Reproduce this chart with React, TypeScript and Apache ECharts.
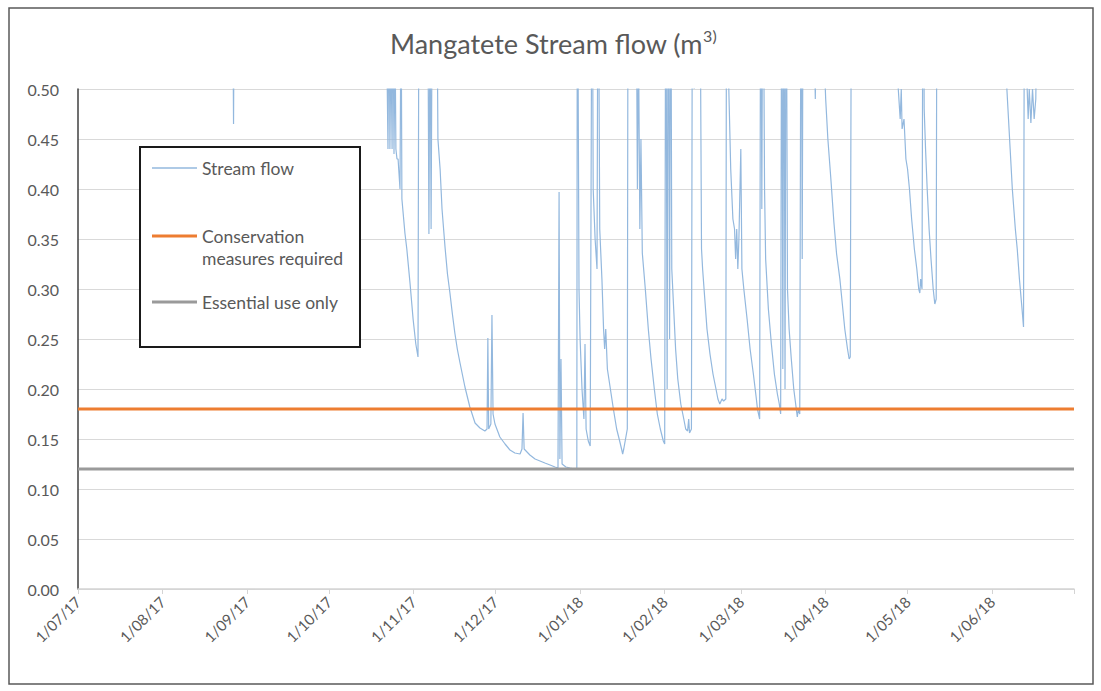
import React, { useEffect, useRef } from 'react';
import * as echarts from 'echarts';

// Day offsets (days since 1 Jul 2017) of the month starts shown on the x axis
const monthStartDays = [0, 31, 62, 92, 123, 153, 184, 215, 243, 274, 304, 335, 365];
const monthLabels = [
  '1/07/17', '1/08/17', '1/09/17', '1/10/17', '1/11/17', '1/12/17',
  '1/01/18', '1/02/18', '1/03/18', '1/04/18', '1/05/18', '1/06/18',
];

// Stream flow readings: time (days since 1 Jul 2017) and flow (values > 0.5 run off the top of the chart)
const flowDay = [
  0, 30, 56.5, 57.0, 57.4, 80, 110, 112.9, 113.6, 114.0, 114.3, 114.7, 115.1, 115.4, 115.8, 116.2, 116.5, 116.9,
  117.3, 118.0, 118.4, 118.7, 119.8, 120.5, 121.7, 122.8, 123.8, 124.6, 125.0, 125.4, 128.2, 128.6, 129.0, 129.4,
  129.8, 131.3, 131.9, 132.7, 133.4, 134.5, 135.4, 136.3, 137.2, 138.1, 139.0, 140.0, 141.8, 143.6, 145.5, 147.3,
  149.1, 149.9, 150.2, 150.5, 151.3, 151.7, 152.1, 152.8, 154.6, 156.5, 158.3, 160.1, 162.0, 162.7, 163.1, 163.5,
  165.6, 167.5, 169.3, 171.1, 173.0, 174.8, 175.9, 176.3, 176.6, 177.0, 177.4, 178.8, 180.3, 182.1, 182.8, 183.0,
  183.6, 184.0, 184.7, 185.4, 185.8, 186.2, 187.0, 187.7, 188.4, 188.8, 189.5, 190.2, 190.6, 191.2, 192.0, 192.6,
  193.0, 193.4, 194.0, 195.1, 196.2, 197.4, 198.5, 199.2, 199.6, 200.0, 201.3, 201.6, 202.2, 203.0, 204.6, 205.0,
  205.4, 205.9, 206.3, 206.8, 207.9, 209.0, 210.0, 211.2, 212.3, 213.4, 214.5, 215.0, 215.4, 215.9, 216.3, 216.8,
  217.2, 217.6, 218.3, 219.0, 219.8, 220.9, 222.0, 222.7, 223.4, 223.8, 224.1, 224.8, 225.2, 225.8, 227.8, 228.5,
  228.9, 229.7, 230.5, 231.6, 232.7, 233.8, 234.5, 235.2, 236.0, 236.6, 237.4, 237.7, 238.1, 238.5, 239.2, 240.0,
  240.6, 241.0, 241.4, 241.8, 242.2, 242.9, 243.3, 244.0, 245.2, 246.3, 247.5, 248.6, 249.0, 249.4, 249.8, 250.2,
  250.6, 251.0, 251.6, 252.0, 253.0, 254.1, 255.2, 256.3, 257.0, 257.5, 257.9, 258.3, 258.7, 259.1, 259.5, 260.0,
  260.6, 261.4, 262.3, 263.0, 263.6, 264.0, 264.5, 265.0, 265.4, 265.8, 269.5, 270.2, 270.6, 272.5, 273.6, 274.0,
  274.8, 275.9, 277.0, 278.0, 279.2, 280.1, 281.0, 282.0, 282.6, 283.0, 283.5, 300.0, 300.6, 301.3, 301.7, 302.0,
  302.7, 303.4, 304.0, 304.7, 305.5, 306.5, 307.4, 308.1, 308.5, 308.8, 309.3, 309.7, 310.1, 310.6, 311.2, 311.9,
  312.6, 313.4, 314.0, 314.5, 314.8, 339.0, 340.4, 341.0, 341.6, 342.4, 343.5, 344.2, 345.0, 345.8, 346.5, 346.9,
  347.6, 348.2, 348.6, 349.2, 349.8, 350.4, 351.0, 351.5, 365,
];
const flowValue = [
  0.95, 0.8, 0.7, 0.465, 0.7, 0.9, 0.8, 0.6, 0.44, 0.6, 0.44, 0.55, 0.44, 0.6, 0.435, 0.55, 0.44, 0.43,
  0.43, 0.40, 0.6, 0.39, 0.356, 0.34, 0.305, 0.27, 0.245, 0.232, 0.7, 0.65, 0.6, 0.355, 0.6, 0.36,
  0.6, 0.7, 0.45, 0.42, 0.38, 0.342, 0.315, 0.296, 0.275, 0.256, 0.24, 0.226, 0.202, 0.182, 0.166, 0.161,
  0.158, 0.16, 0.251, 0.16, 0.165, 0.274, 0.175, 0.165, 0.152, 0.145, 0.139, 0.136, 0.135, 0.14, 0.176, 0.14,
  0.134, 0.13, 0.128, 0.126, 0.124, 0.122, 0.121, 0.397, 0.13, 0.23, 0.125, 0.122, 0.121, 0.12, 0.12, 0.7,
  0.3, 0.25, 0.2, 0.17, 0.245, 0.16, 0.148, 0.143, 0.7, 0.4, 0.35, 0.32, 0.7, 0.36, 0.31, 0.26,
  0.24, 0.26, 0.22, 0.2, 0.18, 0.16, 0.148, 0.14, 0.135, 0.14, 0.16, 0.7, 0.55, 0.7, 0.6, 0.40,
  0.55, 0.36, 0.45, 0.336, 0.30, 0.26, 0.23, 0.20, 0.175, 0.16, 0.148, 0.145, 0.7, 0.2, 0.7, 0.25,
  0.7, 0.32, 0.28, 0.24, 0.21, 0.185, 0.17, 0.16, 0.158, 0.17, 0.156, 0.16, 0.7, 0.5, 0.7, 0.34,
  0.32, 0.29, 0.26, 0.235, 0.215, 0.2, 0.19, 0.185, 0.19, 0.188, 0.19, 0.7, 0.6, 0.5, 0.42, 0.37,
  0.36, 0.33, 0.36, 0.32, 0.35, 0.44, 0.32, 0.3, 0.27, 0.24, 0.215, 0.19, 0.18, 0.175, 0.17, 0.7,
  0.38, 0.7, 0.4, 0.33, 0.28, 0.245, 0.215, 0.195, 0.185, 0.175, 0.7, 0.22, 0.7, 0.2, 0.7, 0.3,
  0.26, 0.23, 0.2, 0.185, 0.172, 0.18, 0.175, 0.7, 0.33, 0.7, 0.6, 0.49, 0.6, 0.6, 0.52, 0.49,
  0.45, 0.41, 0.367, 0.335, 0.31, 0.285, 0.26, 0.24, 0.23, 0.232, 0.7, 0.8, 0.5, 0.47, 0.5, 0.46,
  0.47, 0.43, 0.42, 0.4, 0.37, 0.34, 0.32, 0.3, 0.296, 0.31, 0.3, 0.7, 0.48, 0.44, 0.4, 0.36,
  0.33, 0.3, 0.285, 0.29, 0.7, 0.8, 0.5, 0.47, 0.44, 0.4, 0.36, 0.34, 0.31, 0.285, 0.262, 0.7,
  0.52, 0.47, 0.5, 0.466, 0.5, 0.47, 0.49, 0.6, 0.9,
];

const conservationLevel = 0.18;
const essentialLevel = 0.12;
const periodStartDay = 0;
const periodEndDay = 365;

const FONT = 'Lato';
const TEXT = '#595959';

export default function App() {
  const ref = useRef<HTMLDivElement>(null);

  useEffect(() => {
    if (!ref.current) return;
    const chart = echarts.init(ref.current, null, { renderer: 'svg' });
    const flowData = flowDay.map((d, i) => [d, flowValue[i]]);

    chart.setOption({
      animation: false,
      backgroundColor: '#ffffff',
      title: {
        text: 'Mangatete Stream flow (m{sup|3)}',
        left: 390,
        top: 27,
        padding: 0,
        textStyle: {
          fontFamily: FONT,
          fontSize: 27,
          fontWeight: 'normal',
          color: TEXT,
          lineHeight: 32,
          rich: {
            sup: { fontFamily: FONT, fontSize: 16, color: TEXT, verticalAlign: 'top', lineHeight: 32 },
          },
        },
      },
      grid: { left: 78, right: 27, top: 89, bottom: 102, containLabel: false },
      xAxis: {
        type: 'value',
        min: periodStartDay,
        max: periodEndDay,
        axisLine: { show: true, onZero: true, lineStyle: { color: '#d4d4d4', width: 1.5 } },
        axisTick: { show: true, customValues: monthStartDays, length: 5, lineStyle: { color: '#d4d4d4', width: 1 } },
        axisLabel: {
          customValues: monthStartDays.slice(0, monthLabels.length),
          formatter: (v: number) => {
            const i = monthStartDays.indexOf(v);
            return i >= 0 && i < monthLabels.length ? monthLabels[i] : '';
          },
          rotate: 45,
          margin: 10,
          color: TEXT,
          fontFamily: FONT,
          fontSize: 15,
        },
        splitLine: { show: false },
      },
      yAxis: {
        type: 'value',
        min: 0,
        max: 0.5,
        interval: 0.05,
        axisLine: { show: true, lineStyle: { color: '#404040', width: 1.5 } },
        axisTick: { show: false },
        axisLabel: {
          formatter: (v: number) => v.toFixed(2),
          color: TEXT,
          fontFamily: FONT,
          fontSize: 16,
          margin: 19,
        },
        splitLine: { show: true, lineStyle: { color: '#d9d9d9', width: 1 } },
      },
      legend: [
        {
          data: ['Stream flow'],
          left: 152,
          top: 158,
          padding: 0,
          icon: 'rect',
          itemWidth: 45,
          itemHeight: 1.5,
          selectedMode: false,
          itemStyle: { borderWidth: 0 },
          textStyle: { color: TEXT, fontFamily: FONT, fontSize: 17.5, lineHeight: 20 },
        },
        {
          data: ['Conservation measures required'],
          left: 152,
          top: 225,
          padding: 0,
          icon: 'path://M0 9.5H45V12.5H0Z M0 0H0.01V0.01H0Z M0 43.99H0.01V44H0Z',
          itemWidth: 45,
          itemHeight: 44,
          selectedMode: false,
          itemStyle: { borderWidth: 0 },
          formatter: () => 'Conservation\nmeasures required',
          textStyle: { color: TEXT, fontFamily: FONT, fontSize: 17.5, lineHeight: 22 },
        },
        {
          data: ['Essential use only'],
          left: 152,
          top: 292,
          padding: 0,
          icon: 'rect',
          itemWidth: 45,
          itemHeight: 3,
          selectedMode: false,
          itemStyle: { borderWidth: 0 },
          textStyle: { color: TEXT, fontFamily: FONT, fontSize: 17.5, lineHeight: 20 },
        },
      ],
      graphic: [
        {
          type: 'rect',
          silent: true,
          z: -1,
          shape: { x: 9, y: 8, width: 1084, height: 676 },
          style: { fill: 'none', stroke: '#595959', lineWidth: 1.5 },
        },
        {
          type: 'rect',
          silent: true,
          z: 3,
          shape: { x: 140, y: 147, width: 220, height: 200 },
          style: { fill: '#ffffff', stroke: '#1a1a1a', lineWidth: 2 },
        },
      ],
      series: [
        {
          name: 'Stream flow',
          type: 'line',
          data: flowData,
          showSymbol: false,
          symbol: 'none',
          clip: true,
          z: 2,
          lineStyle: { color: '#93b8de', width: 1.2 },
          itemStyle: { color: '#93b8de' },
        },
        {
          name: 'Conservation measures required',
          type: 'line',
          data: [[periodStartDay, conservationLevel], [periodEndDay, conservationLevel]],
          showSymbol: false,
          symbol: 'none',
          z: 3,
          lineStyle: { color: '#ED7D31', width: 3 },
          itemStyle: { color: '#ED7D31' },
        },
        {
          name: 'Essential use only',
          type: 'line',
          data: [[periodStartDay, essentialLevel], [periodEndDay, essentialLevel]],
          showSymbol: false,
          symbol: 'none',
          z: 3,
          lineStyle: { color: '#9a9a9a', width: 3 },
          itemStyle: { color: '#9a9a9a' },
        },
      ],
    });

    return () => chart.dispose();
  }, []);

  return (
    <div
      ref={ref}
      style={{ position: 'absolute', left: 0, top: 0, width: 1101, height: 691, background: '#ffffff' }}
    />
  );
}
